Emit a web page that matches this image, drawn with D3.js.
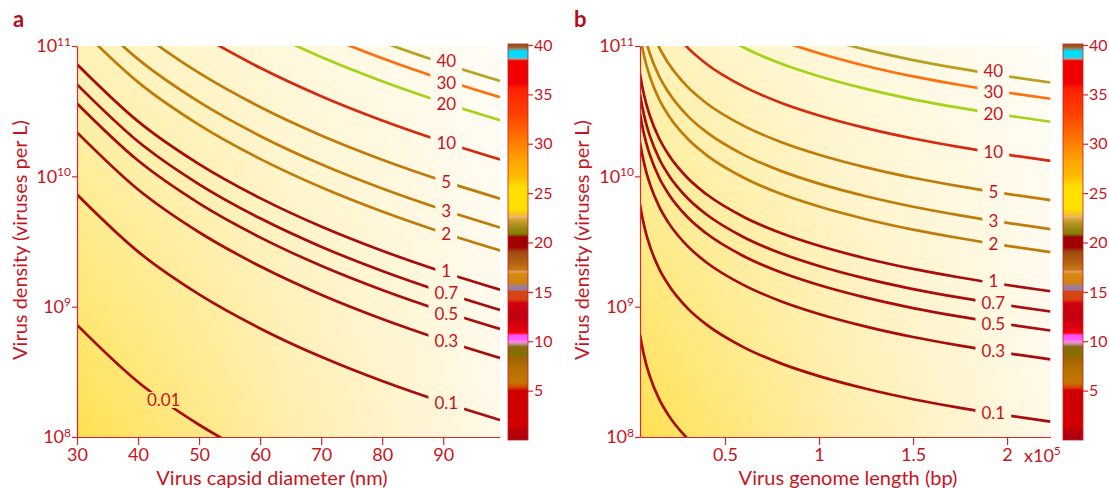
<!DOCTYPE html>
<html>
<head>
<meta charset="utf-8">
<script src="https://cdn.jsdelivr.net/npm/d3@7"></script>
<style>
    body { margin: 0; background: #ffffff; }
    text { font-family: Lato, "Noto Sans", sans-serif; }
</style>
</head>
<body>
<svg id="chart" width="1109" height="488"></svg>
<script>
// contour levels (same for both panels)
const levels = [0.01, 0.1, 0.3, 0.5, 0.7, 1, 2, 3, 5, 10, 20, 30, 40];

// panel a: virus capsid diameter (nm) and log10 virus density along each contour
const capsidDiameter = [30, 40, 50, 60, 70, 80, 90, 99.3];
const densityExpA = [
    [8.860, 8.422, 8.094, 7.833, 7.615, 7.429, 7.266, 7.130],
    [9.860, 9.422, 9.094, 8.833, 8.615, 8.429, 8.266, 8.130],
    [10.337, 9.899, 9.571, 9.310, 9.092, 8.906, 8.743, 8.607],
    [10.559, 10.121, 9.793, 9.532, 9.314, 9.128, 8.965, 8.829],
    [10.705, 10.267, 9.939, 9.678, 9.460, 9.274, 9.111, 8.975],
    [10.860, 10.422, 10.094, 9.833, 9.615, 9.429, 9.266, 9.130],
    [11.161, 10.723, 10.395, 10.134, 9.916, 9.730, 9.567, 9.431],
    [11.337, 10.899, 10.571, 10.310, 10.092, 9.906, 9.743, 9.607],
    [11.559, 11.121, 10.793, 10.532, 10.314, 10.128, 9.965, 9.829],
    [11.860, 11.422, 11.094, 10.833, 10.615, 10.429, 10.266, 10.130],
    [12.161, 11.723, 11.395, 11.134, 10.916, 10.730, 10.567, 10.431],
    [12.337, 11.899, 11.571, 11.310, 11.092, 10.906, 10.743, 10.607],
    [12.462, 12.024, 11.696, 11.435, 11.217, 11.031, 10.868, 10.732]
];
// where the contour labels sit (capsid diameter)
const labelDiameterA = [44.2, 90.5, 90.5, 90.5, 90.5, 90.5, 90.5, 90.5, 90.5, 90.5, 90.5, 90.5, 90.5];
const diameterTicks = [30, 40, 50, 60, 70, 80, 90];

// panel b: virus genome length (x10^5 bp) and log10 virus density along each contour
const genomeLength = [0.048, 0.06, 0.08, 0.1, 0.15, 0.2, 0.3, 0.4, 0.6, 0.8, 1.0, 1.25, 1.5, 1.75, 2.0, 2.231];
const densityExpB = [
    [8.785, 8.688, 8.563, 8.467, 8.290, 8.166, 7.989, 7.864, 7.688, 7.563, 7.467, 7.370, 7.290, 7.224, 7.166, 7.118],
    [9.785, 9.688, 9.563, 9.467, 9.290, 9.166, 8.989, 8.864, 8.688, 8.563, 8.467, 8.370, 8.290, 8.224, 8.166, 8.118],
    [10.262, 10.165, 10.040, 9.944, 9.767, 9.643, 9.466, 9.341, 9.165, 9.040, 8.944, 8.847, 8.767, 8.701, 8.643, 8.595],
    [10.484, 10.387, 10.262, 10.166, 9.989, 9.865, 9.688, 9.563, 9.387, 9.262, 9.166, 9.069, 8.989, 8.923, 8.865, 8.817],
    [10.630, 10.533, 10.408, 10.312, 10.135, 10.011, 9.834, 9.709, 9.533, 9.408, 9.312, 9.215, 9.135, 9.069, 9.011, 8.963],
    [10.785, 10.688, 10.563, 10.467, 10.290, 10.166, 9.989, 9.864, 9.688, 9.563, 9.467, 9.370, 9.290, 9.224, 9.166, 9.118],
    [11.086, 10.989, 10.864, 10.768, 10.591, 10.467, 10.290, 10.165, 9.989, 9.864, 9.768, 9.671, 9.591, 9.525, 9.467, 9.419],
    [11.262, 11.165, 11.040, 10.944, 10.767, 10.643, 10.466, 10.341, 10.165, 10.040, 9.944, 9.847, 9.767, 9.701, 9.643, 9.595],
    [11.484, 11.387, 11.262, 11.166, 10.989, 10.865, 10.688, 10.563, 10.387, 10.262, 10.166, 10.069, 9.989, 9.923, 9.865, 9.817],
    [11.785, 11.688, 11.563, 11.467, 11.290, 11.166, 10.989, 10.864, 10.688, 10.563, 10.467, 10.370, 10.290, 10.224, 10.166, 10.118],
    [12.086, 11.989, 11.864, 11.768, 11.591, 11.467, 11.290, 11.165, 10.989, 10.864, 10.768, 10.671, 10.591, 10.525, 10.467, 10.419],
    [12.262, 12.165, 12.040, 11.944, 11.767, 11.643, 11.466, 11.341, 11.165, 11.040, 10.944, 10.847, 10.767, 10.701, 10.643, 10.595],
    [12.387, 12.290, 12.165, 12.069, 11.892, 11.768, 11.591, 11.466, 11.290, 11.165, 11.069, 10.972, 10.892, 10.826, 10.768, 10.720]
];
const labelGenomeB = [null, 1.927, 1.927, 1.927, 1.927, 1.927, 1.927, 1.927, 1.927, 1.927, 1.927, 1.927, 1.927];
const genomeTicks = [0.5, 1, 1.5, 2];

const densityTicks = [1e8, 1e9, 1e10, 1e11];

// colour bar: [value, colour] from bottom to top
const colorbarStops = [
    [0, "#a8000f"], [1.1, "#be0008"], [1.4, "#d00000"], [5.0, "#d00000"], [5.3, "#d84008"],
    [5.8, "#c47600"], [7.0, "#b87200"], [8.2, "#a06400"], [8.8, "#807000"], [9.4, "#8a6a10"],
    [9.7, "#c09090"], [9.9, "#ff90e0"], [10.1, "#ff60ff"], [10.6, "#ff50f0"], [10.8, "#ff0010"],
    [11.2, "#e00010"], [12.5, "#c00010"], [13.8, "#d00010"], [14.2, "#d84010"], [15.0, "#d04818"],
    [15.2, "#9a7aa0"], [15.6, "#a08090"], [15.8, "#d08010"], [16.8, "#d88a10"], [17.0, "#e0a070"],
    [17.2, "#c87810"], [18.0, "#b06010"], [19.0, "#a04810"], [19.5, "#a00000"], [20.5, "#a00000"],
    [20.8, "#808000"], [21.5, "#a08818"], [22.3, "#d0a830"], [22.5, "#f0b080"], [22.7, "#f0c030"],
    [23.3, "#ffe000"], [25.5, "#ffe000"], [26.5, "#ffbf00"], [28.4, "#ffa000"], [31.0, "#ff6a00"],
    [33.0, "#ff4000"], [35.5, "#ff2000"], [36.0, "#f00000"], [38.3, "#f00000"], [38.5, "#b0a090"],
    [38.7, "#00e0ff"], [39.3, "#00d8ff"], [39.5, "#8a9070"], [39.7, "#9a5a20"], [40, "#9a5020"]
];
const colorbarTicks = [5, 10, 15, 20, 25, 30, 35, 40];

const textColor = "#c8141e";
const axisColor = "#d42a2a";

function contourColor(level) {
    if (level <= 1) return "#a80c0c";
    if (level <= 5) return "#bf7c0a";
    if (level === 10) return "#d62a10";
    if (level === 20) return "#a3d41a";
    if (level === 30) return "#ff6f0f";
    return "#b8a020";
}

const svg = d3.select("#chart");
const defs = svg.append("defs");

// background gradients: yellow on the left fading to white, lighter towards the top
const bgH = defs.append("linearGradient").attr("id", "bgH")
    .attr("x1", 0).attr("y1", 0).attr("x2", 1).attr("y2", 0);
bgH.append("stop").attr("offset", 0).attr("stop-color", "#ffe152");
bgH.append("stop").attr("offset", 0.5).attr("stop-color", "#ffeeac");
bgH.append("stop").attr("offset", 1).attr("stop-color", "#fff9ea");
const bgV = defs.append("linearGradient").attr("id", "bgV")
    .attr("x1", 0).attr("y1", 0).attr("x2", 0).attr("y2", 1);
bgV.append("stop").attr("offset", 0).attr("stop-color", "#ffffff").attr("stop-opacity", 0.6);
bgV.append("stop").attr("offset", 1).attr("stop-color", "#ffffff").attr("stop-opacity", 0);

// colour bar gradient, bottom (0) to top (40)
const cbGrad = defs.append("linearGradient").attr("id", "cbGrad")
    .attr("x1", 0).attr("y1", 1).attr("x2", 0).attr("y2", 0);
cbGrad.selectAll("stop")
    .data(colorbarStops)
    .enter()
    .append("stop")
    .attr("offset", d => d[0] / 40)
    .attr("stop-color", d => d[1]);

function styleAxis(g, fontSize) {
    g.select(".domain").attr("stroke", axisColor).attr("stroke-width", 1.2);
    g.selectAll(".tick line").attr("stroke", axisColor).attr("stroke-width", 1.2);
    g.selectAll(".tick text")
        .attr("fill", textColor)
        .style("font-size", fontSize + "px");
}

// push stacked labels apart so they do not touch
function spreadLabels(items, minGap) {
    const col = items.slice().sort((a, b) => a.ty - b.ty);
    for (let it = 0; it < 40; it++) {
        for (let k = 1; k < col.length; k++) {
            if (col[k].cx !== col[k - 1].cx) continue;
            const gap = col[k].ty - col[k - 1].ty;
            if (gap < minGap) {
                const s = (minGap - gap) / 2;
                col[k - 1].ty -= s;
                col[k].ty += s;
            }
        }
    }
}

function drawPanel(p) {
    const x = d3.scaleLinear().domain(p.xDomain).range([p.left, p.right]);
    const y = d3.scaleLog().domain([1e8, 1e11]).range([p.bottom, p.top]);
    const g = svg.append("g");

    // plot background
    g.append("rect")
        .attr("x", p.left).attr("y", p.top)
        .attr("width", p.right - p.left).attr("height", p.bottom - p.top)
        .attr("fill", "url(#bgH)");
    g.append("rect")
        .attr("x", p.left).attr("y", p.top)
        .attr("width", p.right - p.left).attr("height", p.bottom - p.top)
        .attr("fill", "url(#bgV)");

    defs.append("clipPath").attr("id", "clip" + p.id)
        .append("rect")
        .attr("x", p.left).attr("y", p.top)
        .attr("width", p.right - p.left).attr("height", p.bottom - p.top);

    const mask = defs.append("mask").attr("id", "mask" + p.id)
        .attr("maskUnits", "userSpaceOnUse")
        .attr("x", 0).attr("y", 0).attr("width", 1109).attr("height", 488);
    mask.append("rect").attr("x", 0).attr("y", 0)
        .attr("width", 1109).attr("height", 488).attr("fill", "white");

    const line = d3.line()
        .x((d, i) => x(p.xs[i]))
        .y(d => y(Math.pow(10, d)))
        .curve(d3.curveMonotoneX);

    g.append("g")
        .attr("clip-path", "url(#clip" + p.id + ")")
        .attr("mask", "url(#mask" + p.id + ")")
        .selectAll("path")
        .data(p.rows)
        .enter()
        .append("path")
        .attr("d", line)
        .attr("fill", "none")
        .attr("stroke", (d, i) => contourColor(levels[i]))
        .attr("stroke-width", 2.7);

    // contour labels, with a gap cut into the line underneath
    const items = [];
    p.rows.forEach((row, i) => {
        const lx = p.labelXs[i];
        if (lx === null) return;
        const along = d3.scaleLinear().domain(p.xs).range(row);
        const cy = y(Math.pow(10, along(lx)));
        items.push({ level: levels[i], cx: x(lx), cy: cy, ty: cy });
    });
    spreadLabels(items, 21.5);

    const labels = g.append("g");
    items.forEach(d => {
        const t = labels.append("text")
            .attr("x", d.cx)
            .attr("y", d.ty)
            .attr("dy", "0.35em")
            .attr("text-anchor", "middle")
            .attr("fill", textColor)
            .style("font-size", "17px")
            .text(String(d.level));
        const w = Math.max(t.node().getComputedTextLength() + 12, 20);
        mask.append("rect")
            .attr("x", d.cx - w / 2).attr("y", d.cy - 8)
            .attr("width", w).attr("height", 16)
            .attr("fill", "black");
    });

    // axes
    g.append("g")
        .attr("transform", `translate(0,${p.bottom})`)
        .call(d3.axisBottom(x).tickValues(p.xTicks).tickFormat(d => d)
            .tickSize(8).tickSizeOuter(0).tickPadding(3))
        .call(ax => styleAxis(ax, 18));

    const yAxis = g.append("g")
        .attr("transform", `translate(${p.left},0)`)
        .call(d3.axisLeft(y).tickValues(densityTicks).tickSize(5).tickSizeOuter(0).tickPadding(1));
    styleAxis(yAxis, 18);
    yAxis.selectAll(".tick text").text(null)
        .each(function (d) {
            const t = d3.select(this);
            t.append("tspan").text("10");
            t.append("tspan").attr("dy", "-0.55em").style("font-size", "12px")
                .text(Math.round(Math.log10(d)));
        });

    // axis titles
    g.append("text")
        .attr("x", p.xTitleX).attr("y", 485)
        .attr("text-anchor", "middle")
        .attr("fill", textColor)
        .style("font-size", "20px")
        .text(p.xTitle);
    g.append("text")
        .attr("transform", `translate(${p.yTitleX},240) rotate(-90)`)
        .attr("text-anchor", "middle")
        .attr("fill", textColor)
        .style("font-size", "20px")
        .text("Virus density (viruses per L)");

    // panel letter
    g.append("text")
        .attr("x", p.letterX).attr("y", 27)
        .attr("fill", "#b0101a")
        .style("font-size", "22px")
        .style("font-weight", "bold")
        .text(p.id);

    // colour bar
    const cb = d3.scaleLinear().domain([0, 40]).range([440, 45]);
    g.append("rect")
        .attr("x", p.cbLeft).attr("y", cb(40) - 1)
        .attr("width", 20).attr("height", cb(0) - cb(40) + 1)
        .attr("fill", "url(#cbGrad)")
        .attr("stroke", "#c02020")
        .attr("stroke-width", 0.8);
    g.append("g")
        .attr("transform", `translate(${p.cbLeft + 20},0)`)
        .call(d3.axisRight(cb).tickValues(colorbarTicks).tickSize(5).tickSizeOuter(0).tickPadding(1))
        .call(ax => styleAxis(ax, 16))
        .call(ax => ax.select(".domain").remove());
}

drawPanel({
    id: "a", left: 77, right: 500, top: 46, bottom: 437,
    xDomain: [30, 99.3], xs: capsidDiameter, rows: densityExpA,
    labelXs: labelDiameterA, xTicks: diameterTicks,
    xTitle: "Virus capsid diameter (nm)", xTitleX: 272, yTitleX: 27,
    letterX: 13, cbLeft: 508
});

drawPanel({
    id: "b", left: 640, right: 1050.5, top: 46, bottom: 437,
    xDomain: [0.048, 2.231], xs: genomeLength, rows: densityExpB,
    labelXs: labelGenomeB, xTicks: genomeTicks,
    xTitle: "Virus genome length (bp)", xTitleX: 848, yTitleX: 589,
    letterX: 574, cbLeft: 1063
});

// x10^5 multiplier for the genome axis
const mult = svg.append("text")
    .attr("x", 1024).attr("y", 462)
    .attr("fill", textColor)
    .style("font-size", "18px");
mult.append("tspan").text("x10");
mult.append("tspan").attr("dy", "-0.55em").style("font-size", "12px").text("5");
</script>
</body>
</html>
